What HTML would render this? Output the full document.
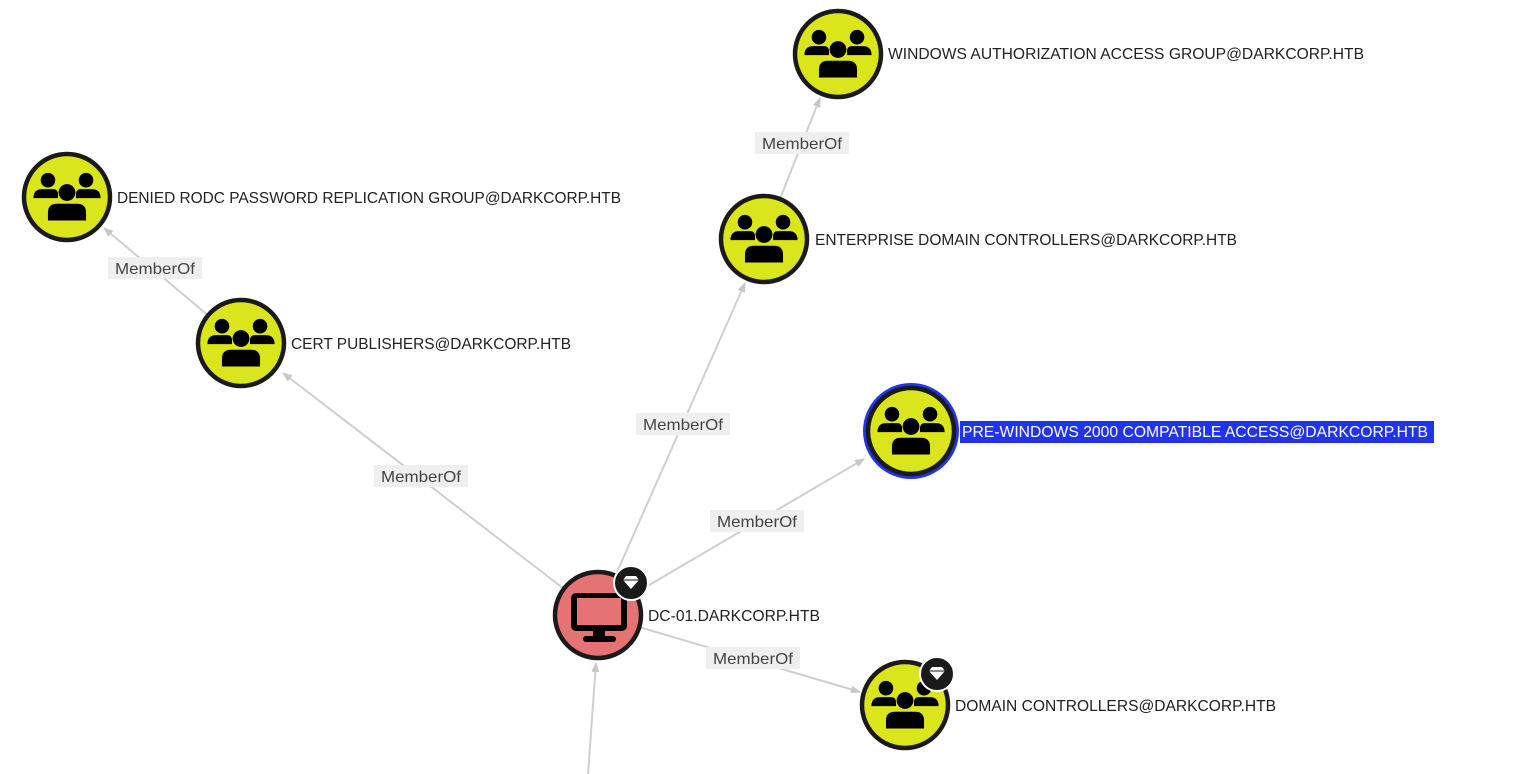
<!DOCTYPE html>
<html><head><meta charset="utf-8"><style>
html,body{margin:0;padding:0;background:#fff;width:1533px;height:774px;overflow:hidden}
svg text{font-family:"Liberation Sans",sans-serif}
</style></head><body>
<svg width="1533" height="774" viewBox="0 0 1533 774" xmlns="http://www.w3.org/2000/svg">
<defs>
<marker id="ar" markerWidth="10" markerHeight="10" refX="9" refY="5" orient="auto" markerUnits="userSpaceOnUse">
<path d="M0,1 L10,5 L0,9 z" fill="#c8c8c8"/></marker>
<g id="grp" transform="scale(1.12)">
<circle cx="-17" cy="-15" r="6.5" fill="#000"/>
<circle cx="17" cy="-15" r="6.5" fill="#000"/>
<path d="M-30,1 Q-30,-7 -22,-7 L-12,-7 Q-8,-7 -8,-2 L-8,1 z" fill="#000"/>
<path d="M30,1 Q30,-7 22,-7 L12,-7 Q8,-7 8,-2 L8,1 z" fill="#000"/>
<circle cx="0" cy="-4" r="7.5" fill="#000"/>
<path d="M-17,21 L-17,14 Q-17,6 -9,6 L9,6 Q17,6 17,14 L17,21 z" fill="#000"/>
</g>
<g id="gnode">
<circle r="43" fill="#dbe51b" stroke="#1a1a1a" stroke-width="4.5"/>
<use href="#grp"/>
</g>
<g id="gem">
<circle r="17" fill="#1a1a1a" stroke="#fff" stroke-width="2"/>
<path d="M-8,-3 L-5,-7 L5,-7 L8,-3 L0,6 z" fill="#fff"/>
<path d="M-8,-3 L8,-3" stroke="#1a1a1a" stroke-width="1"/>
</g>
</defs>

<g stroke="#cfcfcf" stroke-width="2" fill="none">
<line x1="598" y1="615" x2="283" y2="373" marker-end="url(#ar)"/>
<line x1="598" y1="615" x2="745" y2="283" marker-end="url(#ar)"/>
<line x1="598" y1="615" x2="864" y2="459" marker-end="url(#ar)"/>
<line x1="598" y1="615" x2="860" y2="692" marker-end="url(#ar)"/>
<line x1="588" y1="774" x2="596" y2="663" marker-end="url(#ar)"/>
<line x1="241" y1="343" x2="104" y2="228" marker-end="url(#ar)"/>
<line x1="764" y1="239" x2="820" y2="98" marker-end="url(#ar)"/>
</g>

<g font-size="16" fill="#444" text-anchor="middle">
<rect x="108" y="257" width="94" height="22" fill="#efefef"/><text x="155" y="274" textLength="80" lengthAdjust="spacingAndGlyphs">MemberOf</text>
<rect x="374" y="465" width="94" height="22" fill="#efefef"/><text x="421" y="482" textLength="80" lengthAdjust="spacingAndGlyphs">MemberOf</text>
<rect x="636" y="413" width="94" height="22" fill="#efefef"/><text x="683" y="430" textLength="80" lengthAdjust="spacingAndGlyphs">MemberOf</text>
<rect x="710" y="510" width="94" height="22" fill="#efefef"/><text x="757" y="527" textLength="80" lengthAdjust="spacingAndGlyphs">MemberOf</text>
<rect x="706" y="647" width="94" height="22" fill="#efefef"/><text x="753" y="664" textLength="80" lengthAdjust="spacingAndGlyphs">MemberOf</text>
<rect x="755" y="132" width="94" height="22" fill="#efefef"/><text x="802" y="149" textLength="80" lengthAdjust="spacingAndGlyphs">MemberOf</text>
</g>

<use href="#gnode" x="838" y="54"/>
<use href="#gnode" x="67" y="197"/>
<use href="#gnode" x="764" y="239"/>
<use href="#gnode" x="241" y="343"/>
<circle cx="911" cy="431" r="48" fill="#2233ee"/>
<use href="#gnode" x="911" y="431"/>
<use href="#gnode" x="905" y="705"/>

<g>
<circle cx="598" cy="615" r="43" fill="#e57373" stroke="#1a1a1a" stroke-width="4.5"/>
<rect x="571" y="593" width="56" height="38" rx="5" fill="#000"/>
<rect x="577" y="598" width="44" height="27" fill="#e57373"/>
<rect x="593" y="631" width="12" height="7" fill="#000"/>
<rect x="583" y="636" width="33" height="6" rx="3" fill="#000"/>
</g>
<use href="#gem" x="631" y="583"/>
<use href="#gem" x="937" y="674"/>

<g font-size="16" fill="#222" lengthAdjust="spacingAndGlyphs">
<text x="888" y="59" textLength="476" lengthAdjust="spacingAndGlyphs">WINDOWS AUTHORIZATION ACCESS GROUP@DARKCORP.HTB</text>
<text x="117" y="203" textLength="504" lengthAdjust="spacingAndGlyphs">DENIED RODC PASSWORD REPLICATION GROUP@DARKCORP.HTB</text>
<text x="815" y="245" textLength="422" lengthAdjust="spacingAndGlyphs">ENTERPRISE DOMAIN CONTROLLERS@DARKCORP.HTB</text>
<text x="291" y="349" textLength="280" lengthAdjust="spacingAndGlyphs">CERT PUBLISHERS@DARKCORP.HTB</text>
<rect x="960" y="421" width="474" height="22" fill="#2233ee"/>
<text x="962" y="437" fill="#fff" textLength="466" lengthAdjust="spacingAndGlyphs">PRE-WINDOWS 2000 COMPATIBLE ACCESS@DARKCORP.HTB</text>
<text x="648" y="621" textLength="172" lengthAdjust="spacingAndGlyphs">DC-01.DARKCORP.HTB</text>
<text x="955" y="711" textLength="321" lengthAdjust="spacingAndGlyphs">DOMAIN CONTROLLERS@DARKCORP.HTB</text>
</g>
</svg>
</body></html>
